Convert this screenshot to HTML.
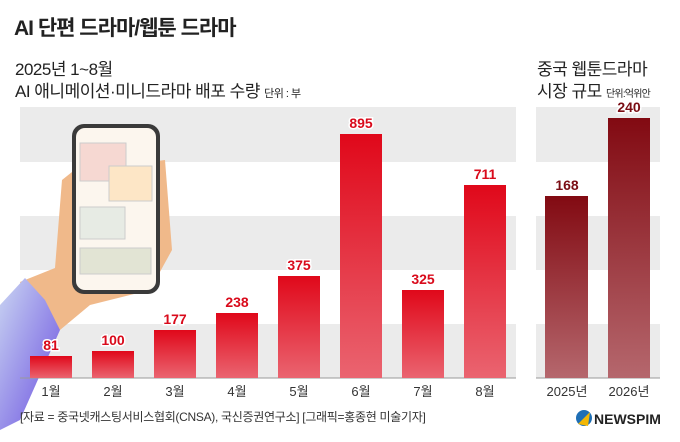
<!DOCTYPE html>
<html><head><meta charset="utf-8"><style>
body{margin:0;background:#fff;font-family:"Liberation Sans","Noto Sans CJK KR",sans-serif;}
.w{position:relative;width:680px;height:442px;overflow:hidden;background:#fff}
.t{position:absolute;white-space:nowrap;color:#222}
</style></head><body><div class="w">
<svg width="680" height="442" style="position:absolute;left:0;top:0">
<defs>
<linearGradient id="r" x1="0" y1="0" x2="0" y2="1"><stop offset="0" stop-color="#e0081a"/><stop offset="1" stop-color="#ea6470"/></linearGradient>
<linearGradient id="d" x1="0" y1="0" x2="0" y2="1"><stop offset="0" stop-color="#820a12"/><stop offset="1" stop-color="#b5676d"/></linearGradient>
<linearGradient id="sl" x1="0" y1="0" x2="1" y2="1"><stop offset="0" stop-color="#c9d4f2"/><stop offset="1" stop-color="#6a4fe0"/></linearGradient>
</defs>
<g fill="#ebebeb">
<rect x="20" y="107" width="496" height="55"/><rect x="20" y="216" width="496" height="54"/><rect x="20" y="324" width="496" height="54"/>
<rect x="536" y="107" width="124" height="55"/><rect x="536" y="216" width="124" height="54"/><rect x="536" y="324" width="124" height="54"/>
</g>
<!-- hand & phone -->
<path d="M20,282 L55,268 L62,180 L72,172 L165,160 L172,250 L150,290 L90,305 L60,330 L35,330Z" fill="#f0b98a"/>
<path d="M0,305 L25,278 L45,300 L60,330 L20,420 L0,430Z" fill="url(#sl)"/>
<rect x="72" y="124" width="88" height="170" rx="12" fill="#3a3a3a"/>
<rect x="76" y="128" width="80" height="162" rx="9" fill="#fcf6ee"/>
<rect x="80" y="143" width="46" height="38" fill="#f6d8d2" stroke="#ccc"/>
<rect x="109" y="166" width="43" height="35" fill="#fde6c6" stroke="#ccc"/>
<rect x="80" y="207" width="45" height="32" fill="#e7ebe4" stroke="#ccc"/>
<rect x="80" y="248" width="71" height="26" fill="#e2e4d4" stroke="#ccc"/>
<path d="M20,378 H516 M536,378 H660" stroke="#999" stroke-width="1"/>
<g fill="url(#r)">
<rect x="30" y="356" width="42" height="22"/><rect x="92" y="351" width="42" height="27"/><rect x="154" y="330" width="42" height="48"/><rect x="216" y="313" width="42" height="65"/>
<rect x="278" y="276" width="42" height="102"/><rect x="340" y="134" width="42" height="244"/><rect x="402" y="290" width="42" height="88"/><rect x="464" y="185" width="42" height="193"/>
</g>
<g fill="url(#d)"><rect x="545" y="196" width="43" height="182"/><rect x="608" y="118" width="42" height="260"/></g>
<g font-family="Liberation Sans,sans-serif" font-weight="bold" font-size="14" text-anchor="middle" fill="#d90a1b" stroke="#fff" stroke-width="3" paint-order="stroke">
<text x="51" y="350">81</text><text x="113" y="345">100</text><text x="175" y="324">177</text><text x="237" y="307">238</text>
<text x="299" y="270">375</text><text x="361" y="128">895</text><text x="423" y="284">325</text><text x="485" y="179">711</text>
<text x="567" y="190" fill="#7a0d14">168</text><text x="629" y="112" fill="#7a0d14">240</text>
</g>
<g font-size="13" text-anchor="middle" fill="#333" font-family="Liberation Sans,Noto Sans CJK KR,sans-serif">
<text x="51" y="396">1월</text><text x="113" y="396">2월</text><text x="175" y="396">3월</text><text x="237" y="396">4월</text>
<text x="299" y="396">5월</text><text x="361" y="396">6월</text><text x="423" y="396">7월</text><text x="485" y="396">8월</text>
<text x="567" y="396">2025년</text><text x="629" y="396">2026년</text>
</g>
<circle cx="584" cy="418" r="8" fill="#1f6fb5"/><path d="M578,424 L590,412 L588,426Z" fill="#f2b705"/>
<text x="594" y="424" font-size="14" font-weight="bold" fill="#222" font-family="Liberation Sans,sans-serif">NEWSPIM</text>
</svg>
<div class="t" style="left:14px;top:12px;font-size:21px;font-weight:bold;letter-spacing:-1px">AI 단편 드라마/웹툰 드라마</div>
<div class="t" style="left:15px;top:55px;font-size:17px;letter-spacing:-0.5px">2025년 1~8월</div>
<div class="t" style="left:15px;top:77px;font-size:17px;letter-spacing:-0.5px">AI 애니메이션·미니드라마 배포 수량 <span style="font-size:11px">단위 : 부</span></div>
<div class="t" style="left:537px;top:55px;font-size:17px;letter-spacing:-0.5px">중국 웹툰드라마</div>
<div class="t" style="left:537px;top:77px;font-size:17px;letter-spacing:-0.5px">시장 규모 <span style="font-size:10px;letter-spacing:-0.8px">단위:억위안</span></div>
<div class="t" style="left:20px;top:408px;font-size:12px;color:#333;letter-spacing:-0.3px">[자료 = 중국넷캐스팅서비스협회(CNSA), 국신증권연구소] [그래픽=홍종현 미술기자]</div>
</div></body></html>
